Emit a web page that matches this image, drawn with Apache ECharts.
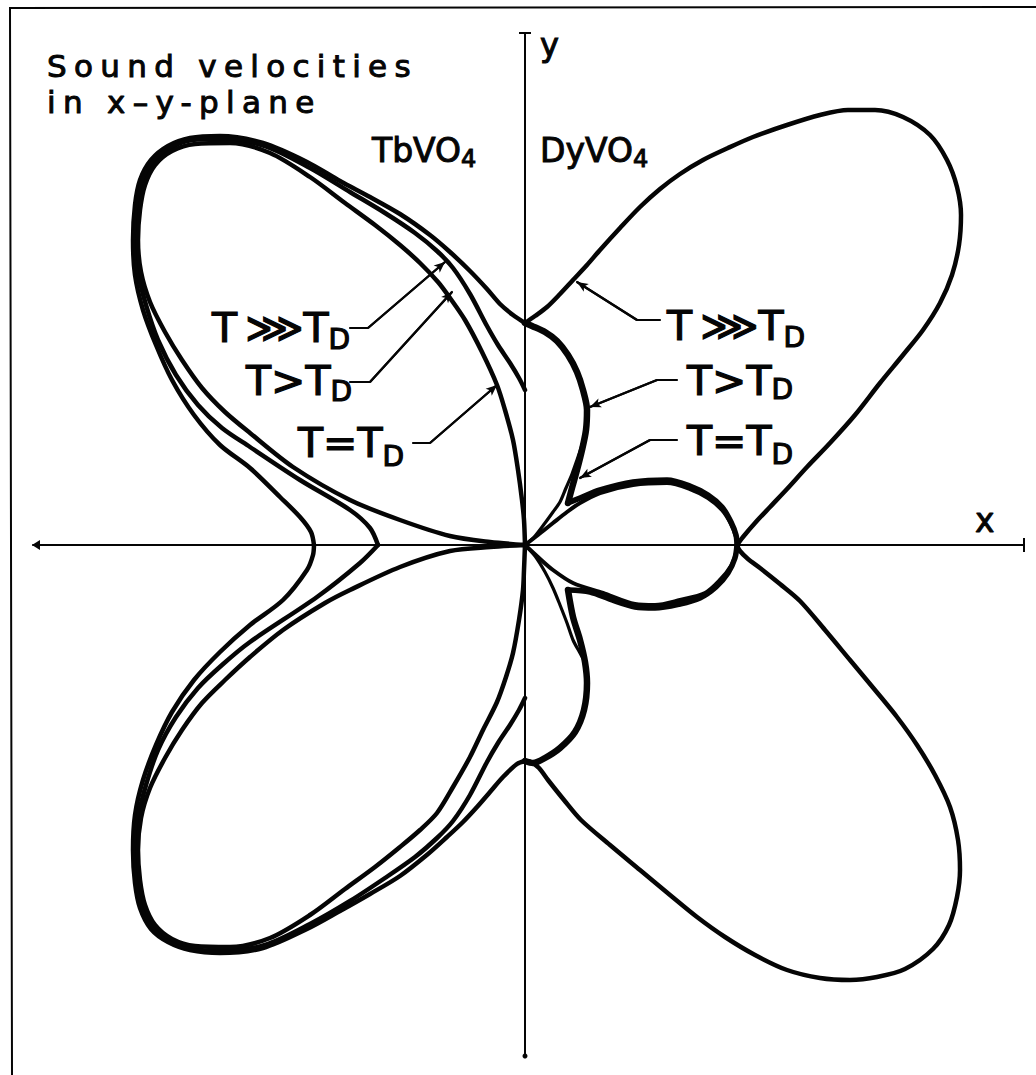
<!DOCTYPE html>
<html>
<head>
<meta charset="utf-8">
<script src="https://cdn.jsdelivr.net/npm/echarts@6.0.0/dist/echarts.min.js"></script>
<style>
  html, body { margin: 0; padding: 0; background: #fff; }
  #chart { width: 1036px; height: 1075px; }
  /* the wide-spaced heading lettering */
  #chart text[style*="31px"] { letter-spacing: 7.3px; }
</style>
</head>
<body>
<div id="chart"></div>
<script>
// Sound velocity curves in the x-y plane (velocity units, origin at the centre).
// TbVO4 is drawn for x < 0, DyVO4 for x > 0; each temperature has an upper and lower half.

// ---- TbVO4 ----
const tbHighUpper = [[0,2.22],[-0.12,2.30],[-0.25,2.41],[-0.38,2.56],[-0.55,2.74],[-0.75,2.93],[-0.95,3.10],[-1.25,3.31],[-1.55,3.48],[-1.85,3.64],[-2.18,3.83],[-2.62,4.02],[-3.05,4.09],[-3.35,4.07],[-3.57,3.99],[-3.74,3.85],[-3.85,3.65],[-3.90,3.40],[-3.92,3.05],[-3.90,2.70],[-3.82,2.35],[-3.69,2.00],[-3.53,1.65],[-3.31,1.30],[-3.05,1.00],[-2.75,0.77],[-2.45,0.48],[-2.25,0.28],[-2.14,0.13],[-2.11,0]];
const tbHighLower = [[0,-2.16],[-0.08,-2.19],[-0.22,-2.32],[-0.35,-2.47],[-0.48,-2.62],[-0.62,-2.77],[-0.78,-2.92],[-0.97,-3.09],[-1.25,-3.31],[-1.55,-3.49],[-1.85,-3.66],[-2.18,-3.84],[-2.62,-4.03],[-3.05,-4.08],[-3.35,-4.05],[-3.57,-3.97],[-3.74,-3.84],[-3.85,-3.63],[-3.90,-3.38],[-3.92,-3.05],[-3.90,-2.70],[-3.82,-2.35],[-3.69,-2.00],[-3.53,-1.67],[-3.31,-1.35],[-3.05,-1.07],[-2.75,-0.80],[-2.42,-0.55],[-2.18,-0.25],[-2.12,-0.10],[-2.11,0]];
const tbMidUpper = [[0,1.55],[-0.06,1.67],[-0.15,1.82],[-0.27,2.00],[-0.38,2.19],[-0.55,2.51],[-0.72,2.77],[-0.88,2.94],[-1.10,3.12],[-1.40,3.32],[-1.75,3.53],[-2.15,3.77],[-2.60,3.99],[-3.03,4.06],[-3.33,4.05],[-3.55,3.97],[-3.72,3.83],[-3.83,3.63],[-3.88,3.38],[-3.90,3.05],[-3.87,2.73],[-3.79,2.40],[-3.67,2.05],[-3.49,1.70],[-3.27,1.40],[-3.03,1.17],[-2.75,0.98],[-2.25,0.65],[-1.75,0.35],[-1.55,0.17],[-1.47,0]];
const tbMidLower = [[0,-1.53],[-0.06,-1.65],[-0.15,-1.80],[-0.27,-1.98],[-0.38,-2.17],[-0.55,-2.50],[-0.72,-2.76],[-0.88,-2.93],[-1.10,-3.12],[-1.40,-3.33],[-1.75,-3.56],[-2.15,-3.79],[-2.60,-4.00],[-3.03,-4.06],[-3.33,-4.04],[-3.55,-3.96],[-3.72,-3.82],[-3.83,-3.62],[-3.88,-3.37],[-3.90,-3.05],[-3.87,-2.73],[-3.79,-2.40],[-3.67,-2.05],[-3.49,-1.72],[-3.27,-1.43],[-3.03,-1.20],[-2.75,-0.97],[-2.08,-0.52],[-1.65,-0.18],[-1.47,0]];
const tbSoftUpper = [[0,0],[-0.01,0.25],[-0.03,0.45],[-0.07,0.75],[-0.12,1.05],[-0.20,1.35],[-0.28,1.60],[-0.43,1.93],[-0.60,2.25],[-0.75,2.47],[-0.87,2.63],[-1.05,2.82],[-1.25,3.00],[-1.50,3.20],[-1.80,3.42],[-2.15,3.68],[-2.55,3.92],[-2.95,4.02],[-3.30,4.01],[-3.53,3.94],[-3.70,3.80],[-3.80,3.60],[-3.85,3.35],[-3.87,3.05],[-3.84,2.73],[-3.75,2.43],[-3.60,2.13],[-3.43,1.85],[-3.23,1.57],[-3.00,1.33],[-2.75,1.12],[-2.32,0.78],[-1.75,0.45],[-1.25,0.25],[-0.75,0.09],[-0.35,0.03],[0,0]];
const tbSoftLower = [[0,0],[-0.01,-0.25],[-0.02,-0.45],[-0.06,-0.75],[-0.12,-1.08],[-0.19,-1.32],[-0.28,-1.57],[-0.42,-1.85],[-0.55,-2.12],[-0.72,-2.42],[-0.88,-2.68],[-1.05,-2.85],[-1.25,-3.02],[-1.50,-3.22],[-1.80,-3.44],[-2.15,-3.70],[-2.55,-3.93],[-2.95,-4.02],[-3.30,-4.01],[-3.53,-3.94],[-3.70,-3.80],[-3.80,-3.60],[-3.85,-3.35],[-3.87,-3.05],[-3.84,-2.73],[-3.75,-2.43],[-3.60,-2.13],[-3.43,-1.85],[-3.23,-1.58],[-3.00,-1.35],[-2.75,-1.12],[-2.42,-0.85],[-2.00,-0.58],[-1.75,-0.45],[-1.25,-0.22],[-0.75,-0.06],[-0.35,-0.02],[0,0]];

// ---- DyVO4 ----
const dyHighUpper = [[0,2.22],[0.10,2.29],[0.22,2.38],[0.35,2.51],[0.48,2.65],[0.62,2.80],[0.75,2.95],[0.95,3.17],[1.15,3.38],[1.35,3.56],[1.55,3.71],[1.78,3.85],[2.03,3.97],[2.28,4.08],[2.62,4.20],[2.95,4.30],[3.23,4.35],[3.50,4.35],[3.78,4.28],[4.05,4.10],[4.22,3.85],[4.32,3.58],[4.36,3.30],[4.34,3.00],[4.27,2.70],[4.15,2.42],[3.98,2.15],[3.78,1.90],[3.55,1.62],[3.30,1.30],[3.05,1.02],[2.82,0.78],[2.62,0.56],[2.45,0.38],[2.30,0.22],[2.18,0.08],[2.12,0]];
const dyHighLower = [[2.12,0],[2.15,-0.06],[2.23,-0.14],[2.35,-0.23],[2.55,-0.39],[2.75,-0.56],[3.00,-0.85],[3.25,-1.15],[3.50,-1.45],[3.72,-1.72],[3.92,-2.00],[4.10,-2.30],[4.25,-2.62],[4.33,-2.95],[4.35,-3.25],[4.32,-3.52],[4.24,-3.80],[4.08,-4.04],[3.80,-4.24],[3.52,-4.32],[3.25,-4.35],[2.95,-4.33],[2.62,-4.25],[2.30,-4.10],[2.00,-3.92],[1.72,-3.72],[1.45,-3.50],[1.15,-3.25],[0.85,-3.00],[0.56,-2.75],[0.39,-2.55],[0.23,-2.35],[0.14,-2.23],[0.06,-2.17],[0,-2.16]];
const dyMidBulgeUpper = [[0,2.22],[0.07,2.19],[0.20,2.13],[0.32,2.04],[0.43,1.90],[0.52,1.73],[0.58,1.55],[0.62,1.35],[0.61,1.15],[0.57,0.95],[0.52,0.75],[0.47,0.57],[0.43,0.42]];
const dyMidLobeUpper = [[0.43,0.42],[0.55,0.47],[0.75,0.55],[1.08,0.63],[1.42,0.65],[1.65,0.59],[1.83,0.50],[1.97,0.38],[2.06,0.23],[2.11,0.10],[2.12,0]];
const dyMidLobeLower = [[2.12,0],[2.10,-0.13],[2.03,-0.28],[1.91,-0.42],[1.75,-0.53],[1.55,-0.59],[1.30,-0.63],[1.10,-0.62],[0.87,-0.55],[0.65,-0.47],[0.43,-0.45]];
const dyMidBulgeLower = [[0.43,-0.45],[0.48,-0.72],[0.55,-0.95],[0.60,-1.17],[0.62,-1.38],[0.59,-1.65],[0.50,-1.87],[0.35,-2.03],[0.20,-2.13],[0.08,-2.18],[0,-2.16]];
const dySoftLobe = [[0,0],[0.13,0.10],[0.28,0.22],[0.42,0.33],[0.55,0.42],[0.75,0.52],[1.08,0.60],[1.42,0.62],[1.65,0.56],[1.83,0.47],[1.97,0.35],[2.06,0.21],[2.11,0.08],[2.12,0],[2.11,-0.08],[2.06,-0.21],[1.95,-0.35],[1.80,-0.48],[1.55,-0.55],[1.30,-0.60],[1.10,-0.59],[0.78,-0.48],[0.48,-0.38],[0.28,-0.25],[0.13,-0.12],[0,0]];
const dySoftBranchUpper = [[0,0],[0.10,0.09],[0.20,0.22],[0.28,0.33],[0.35,0.43],[0.41,0.57],[0.47,0.71],[0.52,0.85],[0.56,0.97],[0.60,1.10]];
const dySoftBranchLower = [[0,0],[0.10,-0.11],[0.20,-0.27],[0.28,-0.43],[0.35,-0.60],[0.42,-0.78],[0.48,-0.95],[0.55,-1.08],[0.60,-1.17]];

// Leader lines from the temperature labels to their curves (last leg carries the arrow).
const leaderPaths = [
  [[-1.75,2.17],[-1.57,2.17],[-0.80,2.83]],
  [[-1.75,1.63],[-1.55,1.63],[-0.73,2.53]],
  [[-1.12,1.02],[-0.95,1.02],[-0.28,1.60]],
  [[1.35,2.25],[1.12,2.25],[0.52,2.63]],
  [[1.52,1.65],[1.32,1.65],[0.65,1.38]],
  [[1.52,1.05],[1.25,1.05],[0.55,0.67]]
];

const INK = '#050505';

function curve(name, data, width) {
  return {
    name, type: 'line', data,
    symbol: 'none', smooth: 0.3, z: 3,
    lineStyle: { color: INK, width, cap: 'round', join: 'round' },
    silent: true
  };
}

function leader(path, i) {
  const n = path.length;
  return {
    name: 'leader' + i, type: 'line', data: path,
    symbol: 'none', smooth: false, z: 4, silent: true,
    lineStyle: { color: INK, width: 2.2, cap: 'round', join: 'round' },
    markLine: {
      silent: true, symbol: ['none', 'arrow'], symbolSize: [7, 11],
      label: { show: false },
      lineStyle: { color: INK, width: 2.2, type: 'solid' },
      data: [[{ coord: path[n - 2] }, { coord: path[n - 1] }]]
    }
  };
}

const series = [
  curve('TbVO4 T>>>TD', tbHighUpper, 4.5),
  curve('TbVO4 T>>>TD ', tbHighLower, 4.5),
  curve('TbVO4 T>TD', tbMidUpper, 4.5),
  curve('TbVO4 T>TD ', tbMidLower, 4.5),
  curve('TbVO4 T=TD', tbSoftUpper, 4.5),
  curve('TbVO4 T=TD ', tbSoftLower, 4.5),
  curve('DyVO4 T>>>TD', dyHighUpper, 4.5),
  curve('DyVO4 T>>>TD ', dyHighLower, 4.5),
  curve('DyVO4 T=TD', dySoftLobe, 4),
  curve('DyVO4 T=TD a', dySoftBranchUpper, 3.2),
  curve('DyVO4 T=TD b', dySoftBranchLower, 3.2),
  curve('DyVO4 T>TD', dyMidBulgeUpper, 6.5),
  curve('DyVO4 T>TD a', dyMidLobeUpper, 5.5),
  curve('DyVO4 T>TD b', dyMidLobeLower, 5.5),
  curve('DyVO4 T>TD c', dyMidBulgeLower, 6.5)
].concat(leaderPaths.map(leader));

// ---- lettering ----
const FONT = 'DejaVu Sans';
const measureCtx = document.createElement('canvas').getContext('2d');
function textWidth(s, size) {
  measureCtx.font = size + 'px ' + FONT;
  return measureCtx.measureText(s).width;
}
// text placed by its baseline (central baseline sits ~0.3em above it); a thin outline
// gives the pen-drawn weight
function txt(s, x, baseline, size, weight) {
  return {
    type: 'text', x, y: baseline - 0.3 * size, silent: true, z: 10,
    style: {
      text: s, font: size + 'px ' + FONT, fill: INK, align: 'left', verticalAlign: 'middle',
      stroke: INK, lineWidth: weight == null ? 1 : weight
    }
  };
}
// main text followed by a lowered subscript
function subbed(main, sub, x, baseline, size, subSize, drop, weight) {
  return [txt(main, x, baseline, size, weight), txt(sub, x + textWidth(main, size), baseline + drop, subSize, weight)];
}

const graphics = [
  { type: 'polyline', silent: true, shape: { points: [[12, 1075], [10, 8], [1036, 7]] },
    style: { stroke: INK, lineWidth: 2, fill: null } },
  { type: 'polygon', silent: true, shape: { points: [[32, 545], [40, 540], [40, 550]] }, style: { fill: INK } },
  { type: 'line', silent: true, shape: { x1: 1024, y1: 538, x2: 1024, y2: 552 }, style: { stroke: INK, lineWidth: 2 } },
  { type: 'circle', silent: true, shape: { cx: 525, cy: 1056, r: 2.5 }, style: { fill: INK } },
  { type: 'line', silent: true, shape: { x1: 519, y1: 33, x2: 531, y2: 33 }, style: { stroke: INK, lineWidth: 2 } },

  txt('Sound velocities', 47, 75, 31, 1),
  txt('in x–y-plane', 47, 111, 31, 1),
  txt('y', 540, 55, 32, 1),
  txt('x', 975, 530, 33, 1)
].concat(
  subbed('TbVO', '4', 372, 160, 33, 24, 6, 1),
  subbed('DyVO', '4', 540, 160, 33, 24, 6, 1),

  subbed('T\u2009⋙T', 'D', 212, 340, 41, 28, 8, 1.2),
  subbed('T>T', 'D', 246, 393, 41, 28, 7, 1.2),
  subbed('T=T', 'D', 298, 455, 41, 28, 10, 1.2),

  subbed('T\u2009⋙T', 'D', 667, 338, 41, 28, 8, 1.2),
  subbed('T>T', 'D', 687, 393, 41, 28, 5, 1.2),
  subbed('T=T', 'D', 687, 453, 41, 28, 10, 1.2)
);

const chart = echarts.init(document.getElementById('chart'), null, { renderer: 'svg' });
chart.setOption({
  animation: false,
  backgroundColor: '#ffffff',
  grid: { left: 33, right: 12, top: 33, bottom: 19 },
  xAxis: {
    type: 'value', min: -4.92, max: 4.99,
    axisLine: { onZero: true, lineStyle: { color: INK, width: 2 } },
    axisTick: { show: false }, axisLabel: { show: false }, splitLine: { show: false }
  },
  yAxis: {
    type: 'value', min: -5.11, max: 5.12,
    axisLine: { onZero: true, lineStyle: { color: INK, width: 2 } },
    axisTick: { show: false }, axisLabel: { show: false }, splitLine: { show: false }
  },
  series,
  graphic: graphics
});
</script>
</body>
</html>
